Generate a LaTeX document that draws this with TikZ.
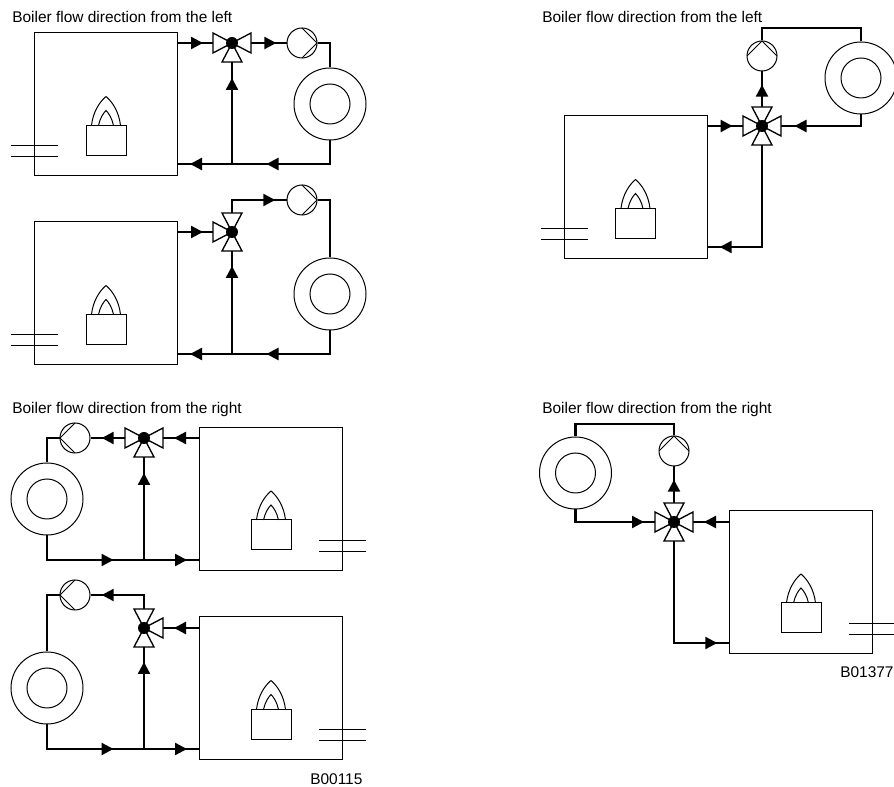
\documentclass[tikz,border=0pt]{standalone}
\usepackage{fontspec}
\setmainfont{Liberation Sans}
\usetikzlibrary{arrows.meta}
\usetikzlibrary{decorations.markings}
\tikzset{
  thinline/.style={line width=.75pt},
  pipe/.style={line width=1.75pt},
  boiler/.style={draw,thinline,minimum size=107.25pt,inner sep=0},
  heater/.style={draw,thinline,circle,minimum size=54pt,inner sep=0},
  coil/.style={draw,thinline,circle,minimum size=30pt,inner sep=0},
  pump/.style={draw,thinline,circle,minimum size=22.5pt,inner sep=0},
  valve/.style={circle,minimum size=28.5pt,inner sep=0},
  caption/.style={anchor=base west,inner sep=0,font=\fontsize{11.6}{14}\selectfont},
  flow/.style={postaction={decorate,decoration={markings,
    mark=at position #1*0.75pt with {\arrow{Triangle[length=9pt,width=9pt]}}}}},
  pics/furnace/.style={code={
    \draw[thinline] (-20,21) rectangle (20,51);
    \draw[thinline] (-14.5,21) .. controls (-13,7) and (-6,-3) .. (0,-8) .. controls (6,-3) and (13,7) .. (14.5,21);
    \draw[thinline] (-7.5,21) .. controls (-6,14) and (-3,9) .. (0,6) .. controls (3,9) and (6,14) .. (7.5,21);
    \draw[thinline] (#1*48,41.5) -- (#1*95,41.5);
    \draw[thinline] (#1*48,52.5) -- (#1*95,52.5);
  }},
  pics/impeller/.style={code={
    \draw[thinline] (0,-15) -- (15,0) -- (0,15);
  }},
  pics/mixer/.style={code={
    \foreach \a in {#1} {
      \draw[line width=1pt,fill=white,rotate=\a] (0,0) -- (19,10) -- (19,-10) -- cycle;
    }
    \fill (0,0) circle (6);
  }},
}
\begin{document}
\begin{tikzpicture}[x=.75pt,y=-.75pt]
\useasboundingbox (0,0) rectangle (894,787);
\node[caption] (tA) at (12,22.5) {Boiler flow direction from the left};
\node[caption] (tE) at (542,22.5) {Boiler flow direction from the left};
\node[caption] (tC) at (12,414) {Boiler flow direction from the right};
\node[caption] (tF) at (542,414) {Boiler flow direction from the right};
\node[caption] (tD) at (310,785) {B00115};
\node[caption] (tG) at (840,678) {B01377};

\node[boiler] (B1) at (106,104.5) {};
\node[heater] (H1) at (330,104) {};
\node[coil] (K1) at (H1) {};
\node[pump] (P1) at (302,43) {};
\node[valve] (V1) at (232,43) {};
\coordinate(T1) at (232,164);
\pic at (B1) {furnace=-1};
\pic at (P1) {impeller};
\draw[pipe,flow=25] (B1.east|-V1) -- (V1.west);
\draw[pipe,flow=25] (V1.east) -- (P1.west);
\draw[pipe] (P1.east) -| (H1.north);
\draw[pipe,flow=87] (H1.south) |- (T1);
\draw[pipe,flow=42] (T1) -- (B1.east|-T1);
\draw[pipe,flow=86] (T1) -- (V1.south);
\pic at (V1) {mixer={0,180,270}};

\node[boiler] (B2) at (106,293.5) {};
\node[heater] (H2) at (330,294) {};
\node[coil] (K2) at (H2) {};
\node[pump] (P2) at (302,200) {};
\node[valve] (V2) at (232,232) {};
\coordinate(T2) at (232,354);
\pic at (B2) {furnace=-1};
\pic at (P2) {impeller};
\draw[pipe,flow=25] (B2.east|-V2) -- (V2.west);
\draw[pipe,flow=56] (V2.north) |- (P2.west);
\draw[pipe] (P2.east) -| (H2.north);
\draw[pipe,flow=87] (H2.south) |- (T2);
\draw[pipe,flow=42] (T2) -- (B2.east|-T2);
\draw[pipe,flow=88] (T2) -- (V2.south);
\pic at (V2) {mixer={90,180,270}};

\node[boiler] (B3) at (271,499) {};
\node[heater] (H3) at (47,499) {};
\node[coil] (K3) at (H3) {};
\node[pump] (P3) at (75,438) {};
\node[valve] (V3) at (144,438) {};
\coordinate(T3) at (144,560);
\pic at (B3) {furnace=1};
\pic[rotate=180] at (P3) {impeller};
\draw[pipe,flow=25] (B3.west|-V3) -- (V3.east);
\draw[pipe,flow=23] (V3.west) -- (P3.east);
\draw[pipe] (P3.west) -| (H3.north);
\draw[pipe,flow=91] (H3.south) |- (T3);
\draw[pipe,flow=43] (T3) -- (B3.west|-T3);
\draw[pipe,flow=87] (T3) -- (V3.south);
\pic at (V3) {mixer={0,180,270}};

\node[boiler] (B4) at (271,688.5) {};
\node[heater] (H4) at (47,688) {};
\node[coil] (K4) at (H4) {};
\node[pump] (P4) at (75,595) {};
\node[valve] (V4) at (144,628) {};
\coordinate(T4) at (144,749);
\pic at (B4) {furnace=1};
\pic[rotate=180] at (P4) {impeller};
\draw[pipe,flow=25] (B4.west|-V4) -- (V4.east);
\draw[pipe,flow=56] (V4.north) |- (P4.east);
\draw[pipe] (P4.west) -| (H4.north);
\draw[pipe,flow=91] (H4.south) |- (T4);
\draw[pipe,flow=43] (T4) -- (B4.west|-T4);
\draw[pipe,flow=87] (T4) -- (V4.south);
\pic at (V4) {mixer={0,90,270}};

\node[boiler] (B5) at (635.5,187.5) {};
\node[heater] (H5) at (861,78) {};
\node[coil] (K5) at (H5) {};
\node[pump] (P5) at (762,56) {};
\node[valve] (V5) at (762,126) {};
\coordinate(C5) at (861,28);
\coordinate(R5) at (707,247);
\pic at (B5) {furnace=-1};
\pic[rotate=90] at (P5) {impeller};
\draw[pipe,flow=25] (B5.east|-V5) -- (V5.west);
\draw[pipe,flow=22] (V5.north) -- (P5.south);
\draw[pipe] (P5.north) |- (C5) -- (H5.north);
\draw[pipe,flow=78] (H5.south) |- (V5.east);
\draw[pipe,flow=144] (V5.south) |- (R5);
\pic at (V5) {mixer={0,90,180,270}};

\node[boiler] (B6) at (801,582) {};
\node[heater] (H6) at (575.5,473) {};
\node[coil] (K6) at (H6) {};
\node[pump] (P6) at (674,451) {};
\node[valve] (V6) at (674,522) {};
\coordinate(C6) at (575.5,424);
\coordinate(R6) at (729,643);
\pic at (B6) {furnace=1};
\pic[rotate=90] at (P6) {impeller};
\draw[pipe,flow=25] (B6.west|-V6) -- (V6.east);
\draw[pipe,flow=23] (V6.north) -- (P6.south);
\draw[pipe] (P6.north) |- (C6) -- (H6.north);
\draw[pipe,flow=81] (H6.south) |- (V6.west);
\draw[pipe,flow=145] (V6.south) |- (R6);
\pic at (V6) {mixer={0,90,180,270}};
\end{tikzpicture}
\end{document}
